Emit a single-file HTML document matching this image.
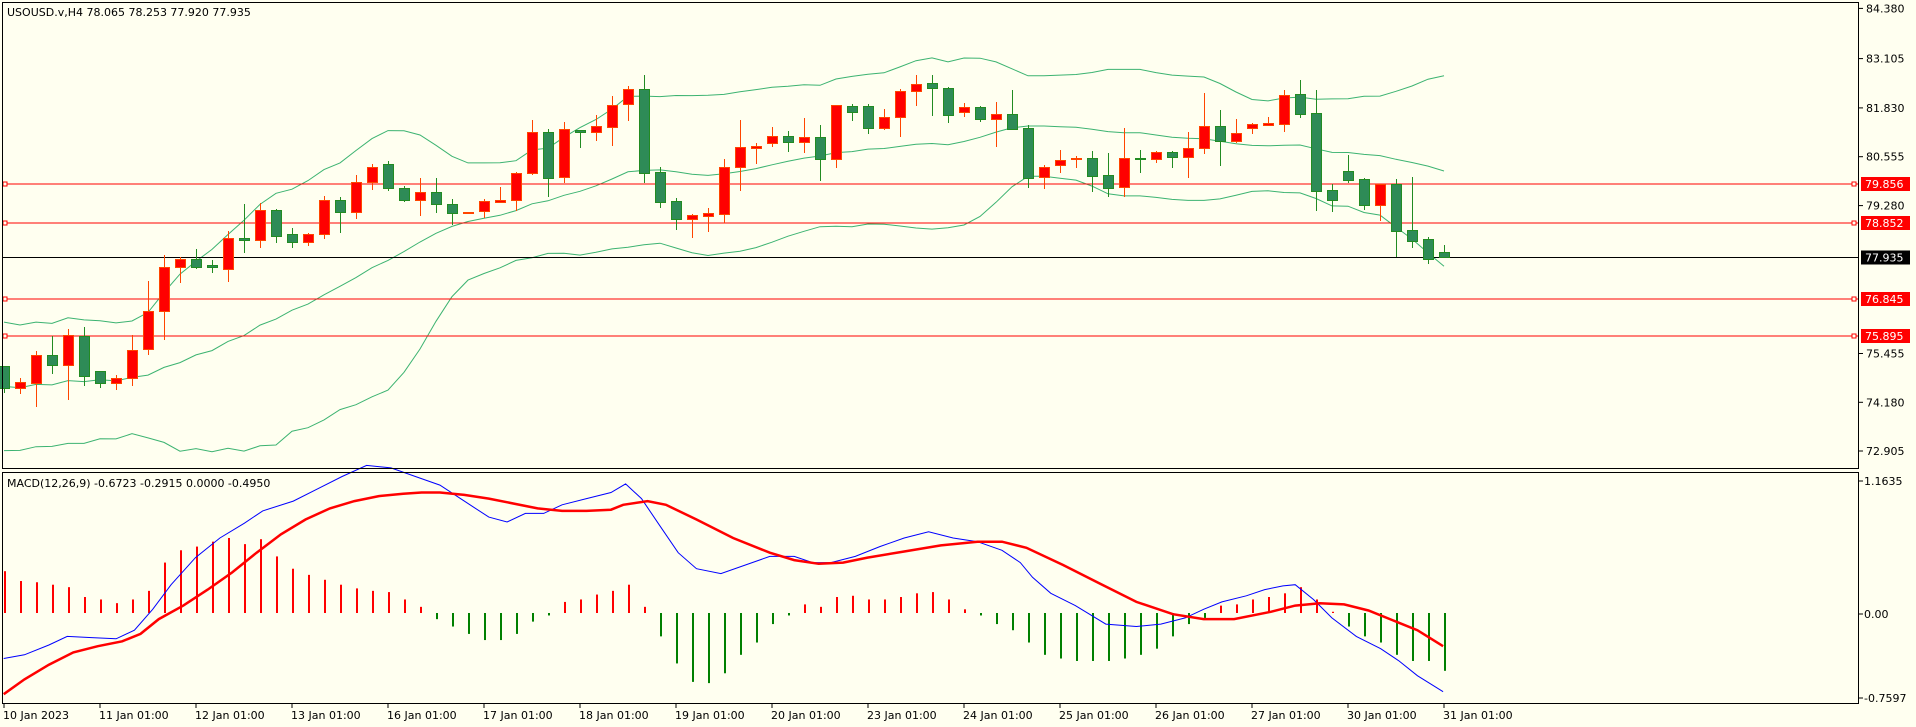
<!DOCTYPE html>
<html><head><meta charset="utf-8">
<style>
html,body{margin:0;padding:0;background:#fffff0;}
svg{display:block;}
text{font-family:"DejaVu Sans","Liberation Sans",sans-serif;font-size:11px;fill:#000;}
</style></head>
<body>
<svg id="s" width="1916" height="727" viewBox="0 0 1916 727" xmlns="http://www.w3.org/2000/svg">
<rect width="1916" height="727" fill="#fffff0"/>
<text x="7" y="16">USOUSD.v,H4  78.065 78.253 77.920 77.935</text>
<text x="7" y="487">MACD(12,26,9) -0.6723 -0.2915 0.0000 -0.4950</text>
</svg>
<script>
const S=document.getElementById('s');const NS='http://www.w3.org/2000/svg';
function el(t,a,txt){const e=document.createElementNS(NS,t);for(const k in a)e.setAttribute(k,a[k]);if(txt!==undefined)e.textContent=txt;S.appendChild(e);return e;}
const C=[[366,388,366,393,'g'],[382,388,378,394,'r'],[355,383,351,407,'r'],[355,365,336,374,'g'],[335,365,329,400,'r'],[336,376,327,386,'g'],[371,383,371,388,'g'],[378,383,375,390,'r'],[350,378,335,386,'r'],[311,349,281,355,'r'],
[267,311,255,340,'r'],[259,267,257,283,'r'],[259,267,249,269,'g'],[265,267,260,273,'g'],[238,269,231,282,'r'],[238,240,204,253,'g'],[210,240,203,248,'r'],[210,236,209,243,'g'],[234,242,228,248,'g'],[234,242,233,246,'r'],
[200,234,196,239,'r'],[200,212,197,233,'g'],[182,212,175,219,'r'],[167,182,164,190,'r'],[164,188,161,191,'g'],[188,200,186,202,'g'],[192,200,178,216,'r'],[192,204,178,213,'g'],[204,213,199,225,'g'],[212,213,212,213,'r'],
[201,211,199,218,'r'],[200,202,187,203,'r'],[173,200,172,211,'r'],[132,173,120,175,'r'],[132,178,129,197,'g'],[129,177,122,183,'r'],[130,132,130,148,'g'],[126,132,115,141,'r'],[105,127,96,146,'r'],[89,104,86,121,'r'],
[89,173,75,183,'g'],[172,202,167,208,'g'],[201,219,198,230,'g'],[215,219,214,238,'r'],[213,216,208,232,'r'],[167,214,159,223,'r'],[147,167,120,191,'r'],[146,148,143,164,'r'],[136,143,127,147,'r'],[136,142,131,152,'g'],
[137,142,118,153,'r'],[137,159,125,181,'g'],[105,159,105,168,'r'],[106,112,104,121,'g'],[106,128,104,134,'g'],[117,128,109,130,'r'],[91,117,89,137,'r'],[84,91,75,106,'r'],[83,88,75,116,'g'],[88,115,87,123,'g'],
[107,112,103,117,'r'],[107,119,106,122,'g'],[114,119,102,147,'r'],[114,129,90,129,'g'],[128,178,125,188,'g'],[167,177,165,189,'r'],[160,165,150,173,'r'],[158,159,156,168,'r'],[158,176,151,192,'g'],[175,188,153,197,'g'],
[158,187,128,197,'r'],[158,159,150,173,'g'],[152,159,151,163,'r'],[152,157,151,168,'g'],[148,157,132,178,'r'],[126,148,93,154,'r'],[126,141,110,166,'g'],[133,141,119,143,'r'],[124,128,123,134,'r'],[123,125,117,126,'r'],
[95,124,90,132,'r'],[94,114,80,118,'g'],[113,191,90,211,'g'],[190,200,184,212,'g'],[171,180,155,183,'g'],[179,205,178,210,'g'],[184,205,184,221,'r'],[184,231,179,257,'g'],[230,241,177,248,'g'],[239,259,237,264,'g'],[252,257,245,257,'g']];
const X=i=>4+16*i;
// clip main panel
const defs=el('defs',{});
// Bollinger
const cl=C.map(c=>c[4]=='r'?c[0]:c[1]);
const pre=[];for(let k=0;k<19;k++)pre.push(k%2?421:355);
const all=pre.concat(cl);
let up=[],mid=[],lo=[];
for(let i=0;i<C.length;i++){const w=all.slice(i,i+20);const m=w.reduce((a,b)=>a+b)/20;const sd=Math.sqrt(w.reduce((a,b)=>a+(b-m)*(b-m),0)/20);mid.push(m);up.push(m-2*sd);lo.push(m+2*sd);}
[up,mid,lo].forEach(arr=>el('polyline',{points:arr.map((y,i)=>X(i)+','+Math.min(467,y).toFixed(1)).join(' '),fill:'none',stroke:'#3cb371','stroke-width':1}));
// horizontal lines
[[184,'79.856'],[223,'78.852'],[299,'76.845'],[336,'75.895']].forEach(([y,t])=>{
 el('line',{x1:2,x2:1859,y1:y,y2:y,stroke:'#ff0000','stroke-width':1});
 el('rect',{x:3,y:y-2,width:4,height:4,fill:'#fffff0',stroke:'#ff0000','stroke-width':1});
 el('rect',{x:1852,y:y-2,width:4,height:4,fill:'#fffff0',stroke:'#ff0000','stroke-width':1});
});
el('line',{x1:2,x2:1859,y1:257.5,y2:257.5,stroke:'#000','stroke-width':1});
// candles
C.forEach((c,i)=>{const x=X(i);const bull=c[4]=='r';
 const wc=bull?'#ff4500':'#228b22';
 el('line',{x1:x+0.5,x2:x+0.5,y1:c[2],y2:c[3],stroke:wc,'stroke-width':1});
 const h=Math.max(1,c[1]-c[0]);
 el('rect',{x:x-4.5,y:c[0]+0.5,width:10,height:h,fill:bull?'#ff0000':'#2e8b57',stroke:wc,'stroke-width':1});
});
// MACD histogram
const H=[467,475,476,478,480,488,490,493,490,483,460,450,447,443,440,445,441,455,465,470,474,478,481,483,484,490,496,506,512,518,523,523,518,508,503,492,490,486,483,478,496,520,542,557,558,550,535,525,510,503,494,496,488,487,490,490,488,485,484,490,498,503,510,515,525,535,538,540,540,540,538,535,530,520,510,505,495,494,490,488,485,480,490,500,512,520,525,535,540,540,548];
const Z=613;
H.forEach((d,i)=>{const v=(d-501)*1.23;if(Math.abs(v)<0.5)return;el('rect',{x:X(i),y:Math.min(Z,Z+v),width:2,height:Math.abs(v),fill:d<501?'#ff0000':'#008000'});});
const B=[[3,538],[20,535],[40,527],[55,520],[75,521],[95,522],[110,515],[125,498],[140,478],[160,456],[180,440],[200,428],[215,418],[240,410],[260,400],[280,390],[300,381],[320,383],[340,390],[360,397],[380,410],[400,423],[415,427],[430,420],[445,420],[460,413],[480,408],[500,403],[512,396],[525,408],[540,430],[555,452],[570,465],[590,469],[610,462],[630,455],[650,455],[665,460],[680,460],[700,455],[720,447],[740,440],[760,435],[780,440],[800,443],[820,450],[835,460],[845,472],[860,485],[880,495],[905,510],[930,512],[950,510],[970,505],[985,498],[1000,492],[1020,487],[1035,482],[1050,479],[1060,478],[1075,490],[1090,505],[1110,520],[1130,530],[1145,540],[1160,552],[1181,565]];
const R=[[3,567],[20,555],[40,543],[60,533],[80,528],[100,524],[115,518],[130,506],[150,495],[170,482],[190,468],[210,452],[230,437],[250,425],[270,416],[290,410],[310,406],[330,404],[345,403],[360,403],[380,405],[400,408],[420,412],[440,416],[460,418],[480,418],[500,417],[510,413],[530,410],[545,413],[570,425],[600,440],[630,452],[650,458],[670,461],[690,460],[710,456],[740,451],[770,446],[800,443],[820,443],[840,448],[870,462],[900,477],[930,492],[960,502],[985,506],[1010,506],[1040,500],[1060,495],[1080,493],[1100,494],[1120,499],[1140,507],[1160,515],[1181,528]];
const mp=p=>p.map(([x,y])=>(x*1.2219).toFixed(1)+','+(Z+(y-501)*1.23).toFixed(1)).join(' ');
el('polyline',{points:mp(B),fill:'none',stroke:'#0000ff','stroke-width':1});
el('polyline',{points:mp(R),fill:'none',stroke:'#ff0000','stroke-width':2.5});
// frames
el('rect',{x:2.5,y:2.5,width:1856,height:466,fill:'none',stroke:'#000','stroke-width':1});
el('rect',{x:2.5,y:472.5,width:1856,height:231,fill:'none',stroke:'#000','stroke-width':1});
// price axis
[[84.380,8.4],[83.105,58.6],[81.830,107.9],[80.555,156.7],[79.280,205.6],[75.455,353.5],[74.180,402.3],[72.905,451]].forEach(([p,y])=>{
 el('line',{x1:1859,x2:1863,y1:y,y2:y,stroke:'#000'});
 el('text',{x:1866,y:y+4},p.toFixed(3));
});
[[184,'79.856','#ff0000'],[223,'78.852','#ff0000'],[257.5,'77.935','#000'],[299,'76.845','#ff0000'],[336,'75.895','#ff0000']].forEach(([y,t,c])=>{
 el('rect',{x:1861,y:y-7,width:49,height:14,fill:c});
 el('text',{x:1865,y:y+4,style:'fill:#fff'},t);
});
[[1.1635,481],[0,614],[-0.7597,698]].forEach(([v,y])=>{
 el('line',{x1:1859,x2:1863,y1:y,y2:y,stroke:'#000'});
 el('text',{x:1864,y:y+4},v==0?'0.00':String(v));
});
// date axis
const D=['10 Jan 2023','11 Jan 01:00','12 Jan 01:00','13 Jan 01:00','16 Jan 01:00','17 Jan 01:00','18 Jan 01:00','19 Jan 01:00','20 Jan 01:00','23 Jan 01:00','24 Jan 01:00','25 Jan 01:00','26 Jan 01:00','27 Jan 01:00','30 Jan 01:00','31 Jan 01:00'];
D.forEach((t,k)=>{const x=4+96*k;el('line',{x1:x,x2:x,y1:704,y2:708,stroke:'#000'});el('text',{x:x-1,y:719},t);});
</script>
</body></html>
